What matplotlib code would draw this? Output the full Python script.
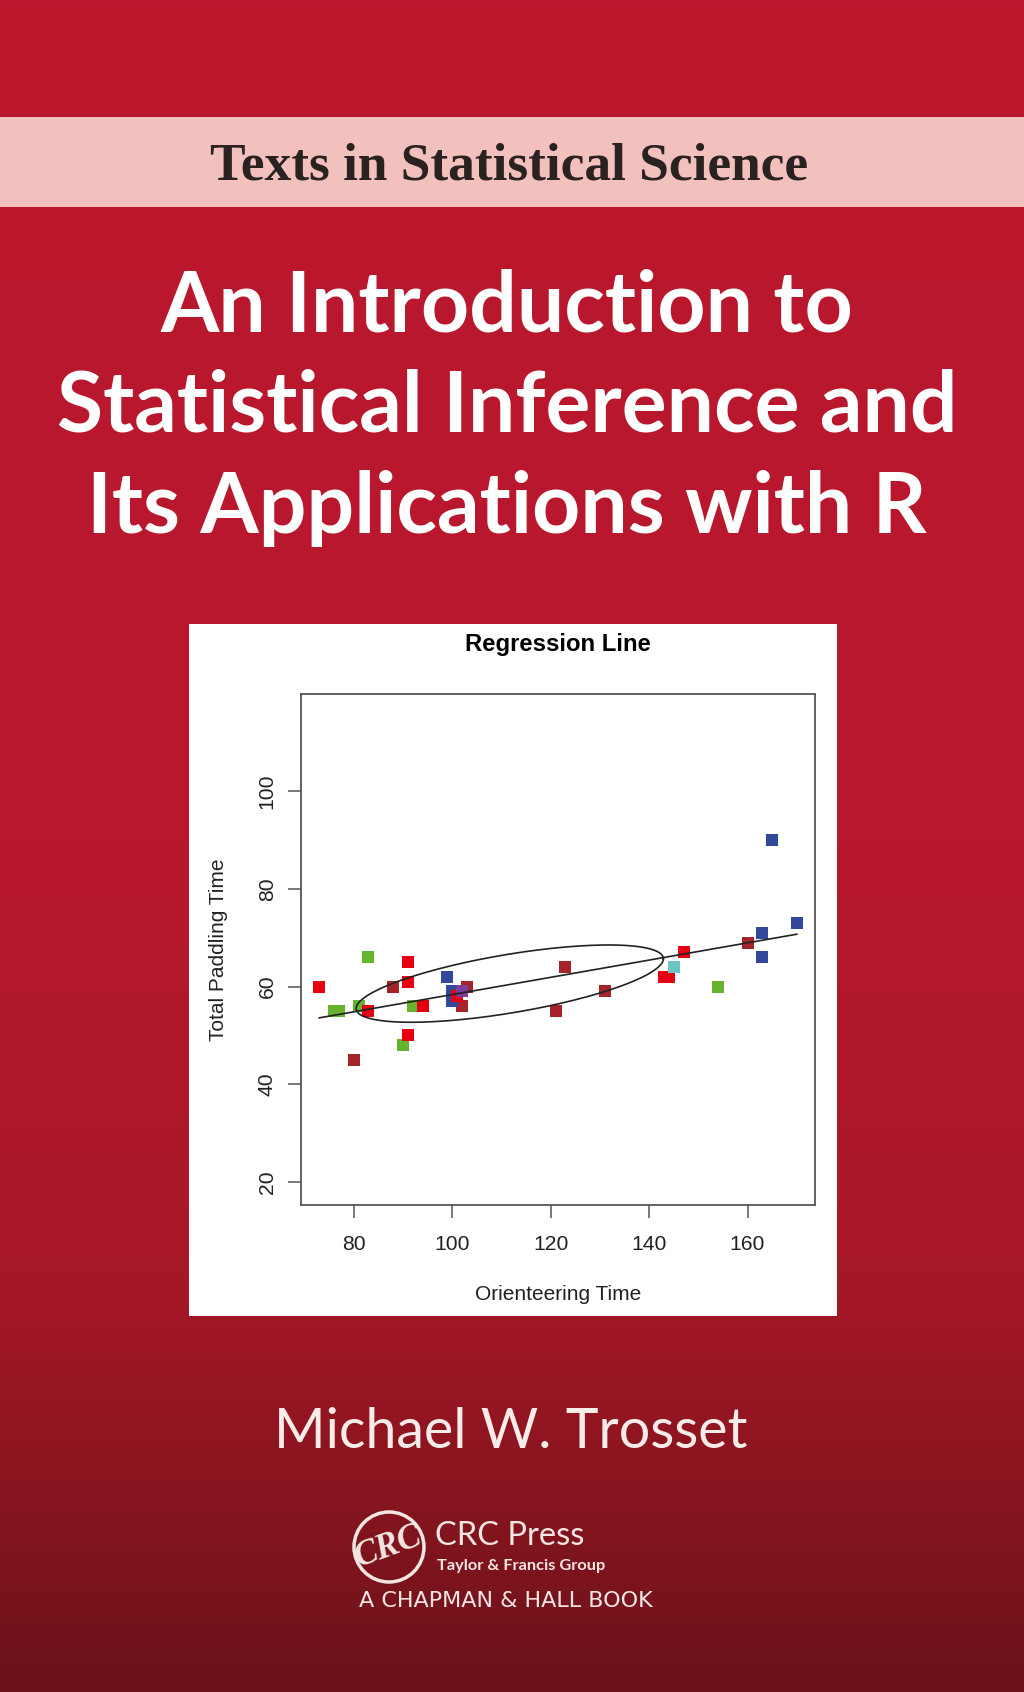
import numpy as np
import matplotlib
matplotlib.use("Agg")
import matplotlib.pyplot as plt
from matplotlib.colors import LinearSegmentedColormap
from matplotlib.patches import Circle, Rectangle

W, H = 1024, 1692

# points, one list per colour
red_x = [73, 83, 91, 91, 91, 94, 101, 143, 144, 147]
red_y = [60, 55, 65, 61, 50, 56, 58, 62, 62, 67]
green_x = [76, 77, 81, 83, 90, 92, 154]
green_y = [55, 55, 56, 66, 48, 56, 60]
brown_x = [80, 88, 102, 103, 121, 123, 131, 160]
brown_y = [45, 60, 56, 60, 55, 64, 59, 69]
blue_x = [99, 100, 100, 101, 163, 163, 165, 170]
blue_y = [62, 59, 57, 59, 71, 66, 90, 73]
purple_x = [102]
purple_y = [59]
cyan_x = [145]
cyan_y = [64]

line_x = [73, 170]
line_y = [53.6, 70.7]

# concentration ellipse: centre, half extents, phase between x and y
ell_cx, ell_cy = 111.7, 60.6
ell_ax, ell_ay = 31.2, 7.9
ell_phase = np.radians(50)

x_ticks = [80, 100, 120, 140, 160]
y_ticks = [20, 40, 60, 80, 100]

grad_pos = [0, 0.5, 0.77, 0.88, 1]
grad_col = ["#bb172e", "#b8172d", "#a51727", "#88151f", "#6b121a"]

fig = plt.figure(figsize=(W / 100, H / 100), dpi=100)

# cover, in pixel coordinates
bg = fig.add_axes([0, 0, 1, 1])
bg.axis("off")
cmap = LinearSegmentedColormap.from_list("cover", list(zip(grad_pos, grad_col)))
bg.imshow(np.linspace(0, 1, H).reshape(-1, 1), cmap=cmap, aspect="auto",
          extent=[0, W, H, 0], vmin=0, vmax=1)
bg.set_xlim(0, W)
bg.set_ylim(H, 0)
bg.add_patch(Rectangle((0, 117), W, 90, fc="#f2c1bd", ec="none"))
bg.add_patch(Rectangle((189, 624), 648, 692, fc="white", ec="none"))

bg.text(509, 166, "Texts in Statistical Science", ha="center", va="center",
        family="Liberation Serif", weight="bold", fontsize=38.4, color="#2a2220")

title = ["An Introduction to", "Statistical Inference and", "Its Applications with R"]
for line, yy in zip(title, [331, 431, 533]):
    bg.text(507, yy, line, ha="center", va="baseline", family="Lato",
            weight="bold", fontsize=60.5, color="white")

bg.text(511, 1448, "Michael W. Trosset", ha="center", va="baseline",
        family="Lato", fontsize=40, color="#f8ecea")

# publisher logo
bg.add_patch(Circle((389, 1547), 35, fc="none", ec="#f5e6e4", lw=2.5))
bg.text(389, 1547, "CRC", ha="center", va="center", rotation=20, family="Liberation Serif",
        weight="bold", style="italic", fontsize=25, color="#f5e6e4")
bg.text(435, 1545, "CRC Press", va="baseline", family="Lato", fontsize=23.5, color="#f5e6e4")
bg.text(437, 1570, "Taylor & Francis Group", va="baseline", family="Lato", weight="bold",
        fontsize=11.8, color="#f5e6e4")
bg.text(506, 1607, "A CHAPMAN & HALL BOOK", ha="center", va="baseline", family="DejaVu Sans",
        fontsize=16, color="#f5e6e4")

# scatter panel
ax = fig.add_axes([301 / W, 1 - 1205 / H, 514 / W, 511 / H])
ax.set_facecolor("white")
for xs, ys, col in [(green_x, green_y, "#66b32e"), (brown_x, brown_y, "#a6232a"),
                    (blue_x, blue_y, "#33479b"), (red_x, red_y, "#e60012"),
                    (purple_x, purple_y, "#7b3f98"), (cyan_x, cyan_y, "#6cc4c4")]:
    ax.scatter(xs, ys, marker="s", s=82, c=col, linewidths=0, zorder=2)

ax.plot(line_x, line_y, color="#222222", lw=1.2, zorder=3)
t = np.linspace(0, 2 * np.pi, 200)
ax.plot(ell_cx + ell_ax * np.cos(t), ell_cy + ell_ay * np.cos(t - ell_phase),
        color="#222222", lw=1.2, zorder=3)

ax.set_xlim(69.3, 173.7)
ax.set_ylim(15.35, 119.8)
ax.set_xticks(x_ticks)
ax.set_yticks(y_ticks)
ax.tick_params(length=9.5, width=1.1, color="#555555", labelsize=15.2, labelcolor="#222222")
ax.tick_params(axis="x", pad=12)
ax.tick_params(axis="y", pad=8)
plt.setp(ax.get_yticklabels(), rotation=90, va="center")
for lab in ax.get_xticklabels() + ax.get_yticklabels():
    lab.set_family("Liberation Sans")
for s in ax.spines.values():
    s.set_color("#555555")
    s.set_linewidth(1.3)

bg.text(558, 645, "Regression Line", ha="center", va="center", family="Liberation Sans",
        weight="bold", fontsize=17.2, color="black")
bg.text(558, 1294, "Orienteering Time", ha="center", va="center", family="Liberation Sans",
        fontsize=15, color="#222222")
bg.text(219, 950, "Total Paddling Time", ha="center", va="center", rotation=90,
        family="Liberation Sans", fontsize=15, color="#222222")

fig.savefig("out.png", dpi=100)
